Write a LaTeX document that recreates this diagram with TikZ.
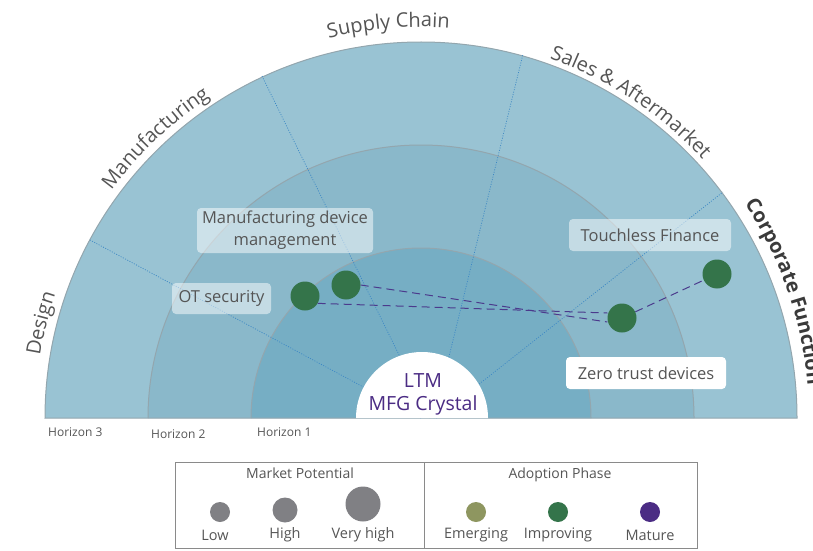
\documentclass[tikz,border=0pt]{standalone}
\usepackage{fontspec}
\setmainfont{Open Sans}
\usetikzlibrary{decorations.text}
\definecolor{ringA}{HTML}{99C3D3}
\definecolor{ringB}{HTML}{8AB8CA}
\definecolor{ringC}{HTML}{76AEC4}
\definecolor{ringline}{HTML}{93A6AE}
\definecolor{dotblue}{HTML}{3D88C4}
\definecolor{bubgreen}{HTML}{34744A}
\definecolor{purp}{HTML}{4B2C84}
\definecolor{dashpurp}{HTML}{4B3A8C}
\definecolor{txtgray}{HTML}{555555}
\definecolor{darkgray}{HTML}{3A3A3A}
\definecolor{leggray}{HTML}{808084}
\definecolor{olivegreen}{HTML}{8E9660}
\definecolor{boxline}{HTML}{8A8A8A}
\newcommand\arcfont{\fontsize{20}{24}\selectfont\color{txtgray}}
\newcommand\corpfont{\fontsize{20}{24}\selectfont\bfseries\color{darkgray}}
\pgfdeclarelayer{backlayer}
\pgfdeclarelayer{midlayer}
\pgfsetlayers{backlayer,midlayer,main}
\tikzset{
  ringedge/.style={draw=ringline, line width=1pt},
  dotline/.style={draw=dotblue, line width=0.7pt, dash pattern=on 1pt off 1.5pt},
  dashline/.style={draw=dashpurp, line width=1pt, dash pattern=on 8pt off 5pt},
  bubble/.style={circle, fill=bubgreen, inner sep=0pt, minimum size=29pt},
  labelbox/.style={rounded corners=4pt, fill=white, fill opacity=0.5, text opacity=1,
    text=txtgray, font=\fontsize{16.5}{22}\selectfont, inner sep=0pt, align=center},
  horizon/.style={anchor=west, text=txtgray, font=\fontsize{12}{14}\selectfont, inner sep=0pt},
  legtitle/.style={text=txtgray, font=\fontsize{14}{16}\selectfont, inner sep=0pt},
  legtext/.style={text=txtgray, font=\fontsize{14.5}{17}\selectfont, inner sep=0pt},
  legdot/.style={circle, inner sep=0pt}
}
\begin{document}
\begin{tikzpicture}[x=1pt,y=1pt]
\useasboundingbox (0,0) rectangle (813,550);
\coordinate (C) at (421,132);
\begin{pgfonlayer}{backlayer}
% rings
\fill[ringA] (C) ++(0:376pt) arc[start angle=0,end angle=180,radius=376pt] -- cycle;
\fill[ringB] (C) ++(0:273pt) arc[start angle=0,end angle=180,radius=273pt] -- cycle;
\fill[ringC] (C) ++(0:170pt) arc[start angle=0,end angle=180,radius=170pt] -- cycle;
\draw[ringedge] (C) ++(0:376pt) arc[start angle=0,end angle=180,radius=376pt] -- cycle;
\draw[ringedge] (C) ++(0:273pt) arc[start angle=0,end angle=180,radius=273pt];
\draw[ringedge] (C) ++(0:170pt) arc[start angle=0,end angle=180,radius=170pt];
% dotted sector lines
\coordinate (s1a) at (421,132); \coordinate (s1b) at (90,310);
\coordinate (s2a) at (430,132); \coordinate (s2b) at (262,474);
\coordinate (s3a) at (434,132); \coordinate (s3b) at (523,496);
\coordinate (s4a) at (436,132); \coordinate (s4b) at (723,358);
\draw[dotline] (s1a) -- (s1b);
\draw[dotline] (s2a) -- (s2b);
\draw[dotline] (s3a) -- (s3b);
\draw[dotline] (s4a) -- (s4b);
% white centre
\fill[white] (422,132) ++(0:66pt) arc[start angle=0,end angle=180,radius=66pt] -- cycle;
% label boxes
\node[labelbox, minimum width=176pt, minimum height=45pt] (mdm) at (285,319.5) {Manufacturing device\\management};
\node[labelbox, minimum width=162pt, minimum height=32pt] (tfb) at (650,315) {Touchless Finance};
\node[labelbox, minimum width=99pt, minimum height=31pt] (otb) at (221.5,251.5) {OT security};
\node[labelbox, fill opacity=1, minimum width=160pt, minimum height=32pt] (ztb) at (646,177) {Zero trust devices};
\end{pgfonlayer}
\node[text=purp, font=\fontsize{19.5}{23}\selectfont, align=center, inner sep=0pt] (core) at (423,155.5) {LTM\\MFG Crystal};
% arc labels
\path[decorate, decoration={text along path, text align=center, text={|\arcfont|Design}}]
  (C) ++(186:386pt) arc[start angle=186, end angle=146, radius=386pt];
\path[decorate, decoration={text along path, text align=center, text={|\arcfont|Manufacturing}}]
  (C) ++(160:384pt) arc[start angle=160, end angle=107, radius=384pt];
\path[decorate, decoration={text along path, text align=center, text={|\arcfont|Supply Chain}}]
  (C) ++(120:391pt) arc[start angle=120, end angle=69.5, radius=391pt];
\path[decorate, decoration={text along path, text align=center, text={|\arcfont|Sales {\&} Aftermarket}}]
  (C) ++(86:382pt) arc[start angle=86, end angle=26.8, radius=382pt];
\path[decorate, decoration={text along path, text align=left, text={|\corpfont|Corporate Function}}]
  (C) ++(33.5:388pt) arc[start angle=33.5, end angle=-12, radius=388pt];
% horizon labels
\node[horizon] (h3) at (48,118) {Horizon 3};
\node[horizon] (h2) at (151,116) {Horizon 2};
\node[horizon] (h1) at (257,118) {Horizon 1};
% bubbles
\node[bubble] (ot) at (305,254) {};
\node[bubble] (mfg) at (346,265) {};
\node[bubble] (zt) at (622,232) {};
\node[bubble] (tf) at (717,276) {};
\begin{pgfonlayer}{midlayer}
\draw[dashline] (mfg.east) -- ([yshift=-4pt]zt.west);
\draw[dashline] (ot.-30) -- ([yshift=5pt]zt.west);
\draw[dashline] (zt) -- (tf);
\end{pgfonlayer}
% legend
\draw[boxline, line width=1pt] (175,88) rectangle (697,2);
\draw[boxline, line width=1pt] (424,88) -- (424,2);
\node[legtitle] (mp) at (300,77) {Market Potential};
\node[legtitle] (ap) at (560,75) {Adoption Phase};
\node[legdot, fill=leggray, minimum size=20pt] (low) at (220,38) {};
\node[legdot, fill=leggray, minimum size=25pt] (high) at (285,40) {};
\node[legdot, fill=leggray, minimum size=35pt] (vhigh) at (363,46) {};
\node[legtext] (lowt) at (215,15) {Low};
\node[legtext] (hight) at (285,15) {High};
\node[legtext] (vhight) at (363,15) {Very high};
\node[legdot, fill=olivegreen, minimum size=20pt] (em) at (476,38) {};
\node[legdot, fill=bubgreen, minimum size=20pt] (im) at (558,38) {};
\node[legdot, fill=purp, minimum size=20pt] (ma) at (650,38) {};
\node[legtext] (emt) at (476,15) {Emerging};
\node[legtext] (imt) at (558,15) {Improving};
\node[legtext] (mat) at (650,15) {Mature};
\end{tikzpicture}
\end{document}
